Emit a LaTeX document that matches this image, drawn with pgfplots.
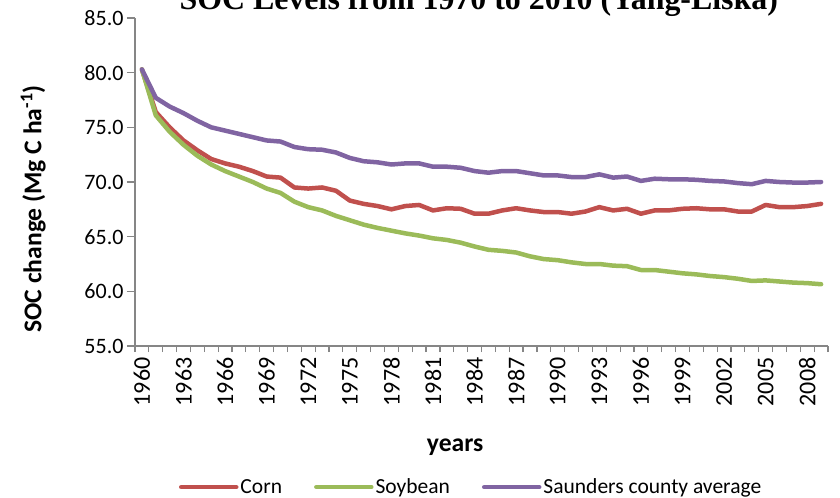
\documentclass[border=0pt]{standalone}
\usepackage{fontspec}
\setmainfont{Carlito}
\newfontfamily\titlefont{Liberation Serif}
\usepackage{pgfplots}
\usepackage{pgfplotstable}
\pgfplotsset{compat=1.18}
\definecolor{cornred}{HTML}{C0504D}
\definecolor{soygreen}{HTML}{9BBB59}
\definecolor{avgpurple}{HTML}{8064A2}
\definecolor{axisgray}{HTML}{868686}

\pgfplotstableread{
year corn soy avg
1960 80.3 80.3 80.3
1961 76.4 76.1 77.7
1962 75.0 74.6 76.9
1963 73.8 73.4 76.3
1964 72.9 72.4 75.6
1965 72.1 71.6 75.0
1966 71.7 71.0 74.7
1967 71.4 70.5 74.4
1968 71.0 70.0 74.1
1969 70.5 69.4 73.8
1970 70.4 69.0 73.7
1971 69.5 68.2 73.2
1972 69.4 67.7 73.0
1973 69.5 67.4 72.95
1974 69.2 66.9 72.7
1975 68.3 66.5 72.2
1976 68.0 66.1 71.9
1977 67.8 65.8 71.8
1978 67.5 65.55 71.6
1979 67.8 65.3 71.7
1980 67.9 65.1 71.7
1981 67.4 64.85 71.4
1982 67.6 64.7 71.4
1983 67.55 64.45 71.3
1984 67.1 64.1 71.0
1985 67.1 63.8 70.85
1986 67.4 63.7 71.0
1987 67.6 63.55 71.0
1988 67.4 63.2 70.8
1989 67.25 62.95 70.6
1990 67.25 62.85 70.6
1991 67.1 62.65 70.45
1992 67.3 62.5 70.45
1993 67.7 62.5 70.7
1994 67.4 62.35 70.4
1995 67.55 62.3 70.5
1996 67.1 61.95 70.1
1997 67.4 61.95 70.3
1998 67.4 61.8 70.25
1999 67.55 61.65 70.25
2000 67.6 61.55 70.2
2001 67.5 61.4 70.1
2002 67.5 61.3 70.05
2003 67.3 61.15 69.9
2004 67.3 60.95 69.8
2005 67.9 61.0 70.1
2006 67.7 60.9 70.0
2007 67.7 60.8 69.95
2008 67.8 60.75 69.95
2009 68.0 60.65 70.0
}\datatable

\begin{document}
\begin{tikzpicture}
\begin{axis}[
  scale only axis,
  width=693bp, height=328bp,
  xmin=-0.5, xmax=49.5,
  ymin=55, ymax=85,
  axis lines=left,
  axis line style={-, draw=axisgray, line width=1.2bp},
  every tick/.style={draw=axisgray, line width=1.2bp},
  tick align=outside,
  major tick length=8bp,
  minor tick length=6bp,
  ytick={55,60,...,85},
  xtick={0,3,...,48},
  xticklabels={1960,1963,1966,1969,1972,1975,1978,1981,1984,1987,1990,1993,1996,1999,2002,2005,2008},
  minor xtick={-0.5,0.5,...,49.5},
  major x tick style={draw=none},
  /pgf/number format/.cd, fixed, fixed zerofill, precision=1, assume math mode=true, /pgfplots/.cd,
  yticklabel style={font=\fontsize{22bp}{24bp}\selectfont, black},
  xticklabel style={font=\fontsize{24bp}{26bp}\selectfont, black, rotate=90, anchor=east},
  xlabel={years},
  ylabel={SOC change (Mg C ha\textsuperscript{-1})},
  every axis x label/.style={at={(axis description cs:0.462,-0.308)}, anchor=center,
    font=\bfseries\fontsize{25.6bp}{28bp}\selectfont},
  every axis y label/.style={at={(axis description cs:-0.147,0.418)}, anchor=center, rotate=90,
    font=\bfseries\fontsize{25.6bp}{28bp}\selectfont},
  title={SOC Levels from 1970 to 2010 (Yang-Liska)},
  title style={at={(axis description cs:0.496,1)}, anchor=base, yshift=3bp, font=\titlefont\bfseries\fontsize{31.9bp}{34bp}\selectfont},
  legend columns=3,
  legend style={at={(axis description cs:0.485,-0.43)}, anchor=center, draw=none, fill=none,
    font=\fontsize{21.5bp}{24bp}\selectfont,
    /tikz/every even column/.append style={column sep=30bp}},
  legend image code/.code={\draw[#1, line width=4.5bp] (0bp,0bp) -- (55bp,0bp);},
  every axis plot/.append style={line width=4.5bp, line join=round, line cap=round, mark=none},
  clip=false,
]
\addplot[cornred] table[x expr=\thisrow{year}-1960, y=corn] {\datatable};
\addlegendentry{Corn}
\addplot[soygreen] table[x expr=\thisrow{year}-1960, y=soy] {\datatable};
\addlegendentry{Soybean}
\addplot[avgpurple] table[x expr=\thisrow{year}-1960, y=avg] {\datatable};
\addlegendentry{Saunders county average}
\end{axis}
\pgfresetboundingbox
\path[use as bounding box] (-135bp,-152bp) rectangle (705bp,346bp);
\end{tikzpicture}
\end{document}
